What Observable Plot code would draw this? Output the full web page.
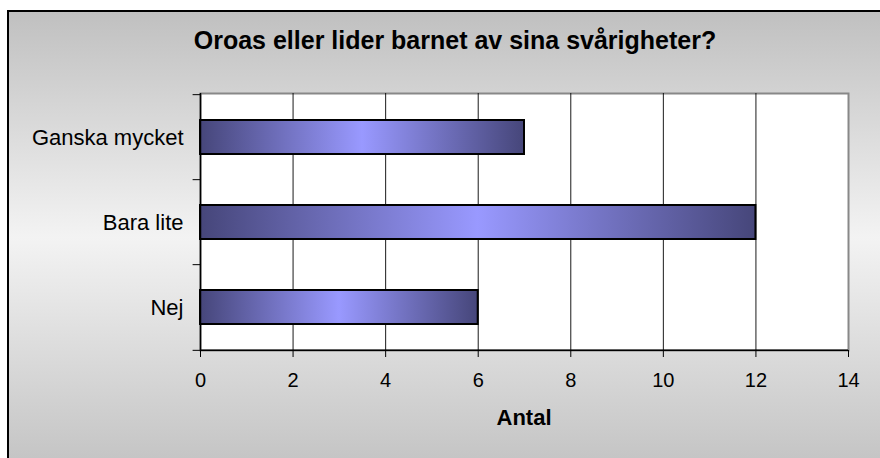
<!DOCTYPE html>
<html>
<head>
<meta charset="utf-8">
<script src="https://cdn.jsdelivr.net/npm/d3@7"></script>
<script src="https://cdn.jsdelivr.net/npm/@observablehq/plot@0.6"></script>
<style>
  html, body { margin: 0; padding: 0; background: #ffffff; }
  #wrap { position: relative; width: 880px; height: 458px; overflow: hidden; font-family: "Liberation Sans", Arial, sans-serif; }
  #bg { position: absolute; left: 7px; top: 10px; width: 900px; height: 470px; border-left: 2px solid #000; border-top: 2px solid #000;
        background: linear-gradient(to bottom, #c0c0c0 0%, #f3f3f3 48%, #c0c0c0 100%); }
  #title { position: absolute; left: 0; width: 910px; top: 26px; text-align: center; font-weight: bold; font-size: 25px; color: #000; }
  #chart { position: absolute; left: 0; top: 0; }
  #xlabel { position: absolute; left: 200px; width: 648px; top: 405px; text-align: center; font-weight: bold; font-size: 22px; color: #000; }
</style>
</head>
<body>
<div id="wrap">
  <div id="bg"></div>
  <div id="title">Oroas eller lider barnet av sina svårigheter?</div>
  <div id="chart"></div>
  <div id="xlabel">Antal</div>
</div>
<script>
const categories = ["Ganska mycket", "Bara lite", "Nej"];
const values = [7, 12, 6];
const xTicks = [0, 2, 4, 6, 8, 10, 12, 14];
const gridTicks = [2, 4, 6, 8, 10, 12];
const xDomain = [0, 14];

const data = categories.map((c, i) => ({category: c, value: values[i]}));

const W = 880, H = 458, mT = 93, mB = 108, mL = 200, mR = 32;
const step = (H - mT - mB) / categories.length;

const plot = Plot.plot({
  width: W,
  height: H,
  marginTop: mT,
  marginBottom: mB,
  marginLeft: mL,
  marginRight: mR,
  style: {background: "transparent", fontFamily: "'Liberation Sans', Arial, sans-serif", color: "#000", overflow: "visible"},
  x: {domain: xDomain},
  y: {domain: categories, paddingInner: 0.6, paddingOuter: 0.3},
  marks: [
    Plot.frame({fill: "#ffffff", stroke: "#888888", strokeWidth: 2}),
    Plot.gridX(gridTicks, {stroke: "#000", strokeOpacity: 0.9, strokeWidth: 1}),
    Plot.barX(data, {x: "value", y: "category", fill: "url(#barGrad)", stroke: "#000", strokeWidth: 2}),
    Plot.ruleX([0], {stroke: "#000", strokeWidth: 1.5}),
    Plot.ruleY([categories[categories.length - 1]], {x1: 0, x2: 14, dy: step / 2, stroke: "#000", strokeWidth: 1.5}),
    Plot.ruleY(categories, {x1: -0.16, x2: 0, dy: -step / 2, stroke: "#000", strokeWidth: 1}),
    Plot.ruleY([categories[categories.length - 1]], {x1: -0.16, x2: 0, dy: step / 2, stroke: "#000", strokeWidth: 1}),
    Plot.axisY({tickSize: 0, tickPadding: 17, fontSize: 22, label: null}),
    Plot.axisX(xTicks, {tickSize: 7, tickPadding: 15, fontSize: 20, label: null})
  ]
});

const ns = "http://www.w3.org/2000/svg";
const defs = document.createElementNS(ns, "defs");
const grad = document.createElementNS(ns, "linearGradient");
grad.setAttribute("id", "barGrad");
grad.setAttribute("x1", "0"); grad.setAttribute("x2", "1");
grad.setAttribute("y1", "0"); grad.setAttribute("y2", "0");
[["0%", "#46467a"], ["50%", "#9999ff"], ["100%", "#46467a"]].forEach(([o, c]) => {
  const s = document.createElementNS(ns, "stop");
  s.setAttribute("offset", o); s.setAttribute("stop-color", c);
  grad.appendChild(s);
});
defs.appendChild(grad);
plot.insertBefore(defs, plot.firstChild);

document.getElementById("chart").appendChild(plot);
</script>
</body>
</html>
